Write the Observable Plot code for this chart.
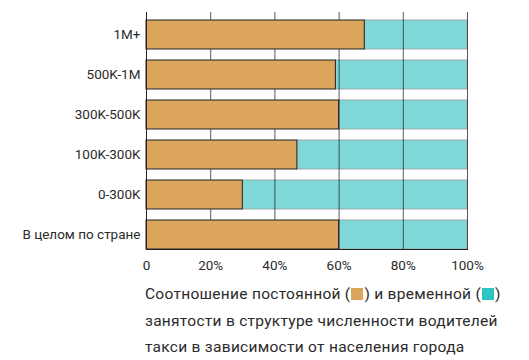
<!DOCTYPE html>
<html>
<head>
<meta charset="utf-8">
<script src="https://cdn.jsdelivr.net/npm/d3@7"></script>
<script src="https://cdn.jsdelivr.net/npm/@observablehq/plot@0.6"></script>
<style>
  body { margin: 0; background: #fff; font-family: Roboto, "Noto Sans", sans-serif; }
  #chart svg { display: block; }
  .caption { margin: 0; padding-left: 145px; font-size: 15.5px; line-height: 26.5px; color: #2b2b2b; padding-top: 1px; white-space: nowrap; letter-spacing: 0.28px; }
  .sw { display: inline-block; width: 12px; height: 12px; vertical-align: -1px; margin: 0 1px; }
</style>
</head>
<body>
<div id="chart"></div>
<div class="caption">Соотношение постоянной (<span class="sw" style="background:#dba55c"></span>) и временной (<span class="sw" style="background:#2ec4c4"></span>)<br>занятости в структуре численности водителей<br>такси в зависимости от населения города</div>
<script>
const categories = ["1M+", "500K-1M", "300K-500K", "100K-300K", "0-300K", "В целом по стране"];
const permanent = [68, 59, 60, 47, 30, 60];
const temporary = [32, 41, 40, 53, 70, 40];
const xTicks = [0, 20, 40, 60, 80, 100];

const rows = categories.map((c, i) => ({cat: c, perm: permanent[i], temp: temporary[i]}));

const chart = Plot.plot({
  width: 529,
  height: 280,
  marginLeft: 146,
  marginRight: 62,
  marginTop: 12,
  marginBottom: 31,
  style: {fontFamily: "Roboto, sans-serif", fontSize: "13.5px", color: "#2b2b2b"},
  x: {domain: [0, 100], ticks: xTicks, tickFormat: d => d === 0 ? "0" : d + "%", tickSize: 0, tickPadding: 11, label: null},
  y: {domain: categories, paddingInner: 0.28, paddingOuter: 0.07, align: 1, tickSize: 0, tickPadding: 6, label: null},
  marks: [
    Plot.barX(rows, {y: "cat", x1: d => d.perm, x2: d => d.perm + d.temp, fill: "#80d7d7", stroke: "#9aa", strokeWidth: 1}),
    Plot.ruleX(xTicks.slice(1), {stroke: "#222", strokeOpacity: 0.75}),
    Plot.barX(rows, {y: "cat", x1: 0, x2: "perm", fill: "#dba55c", stroke: "#222", strokeWidth: 1}),
    Plot.ruleX([0], {stroke: "#222"}),
    Plot.frame({anchor: "bottom", stroke: "#222"})
  ]
});
document.getElementById("chart").appendChild(chart);
</script>
</body>
</html>
